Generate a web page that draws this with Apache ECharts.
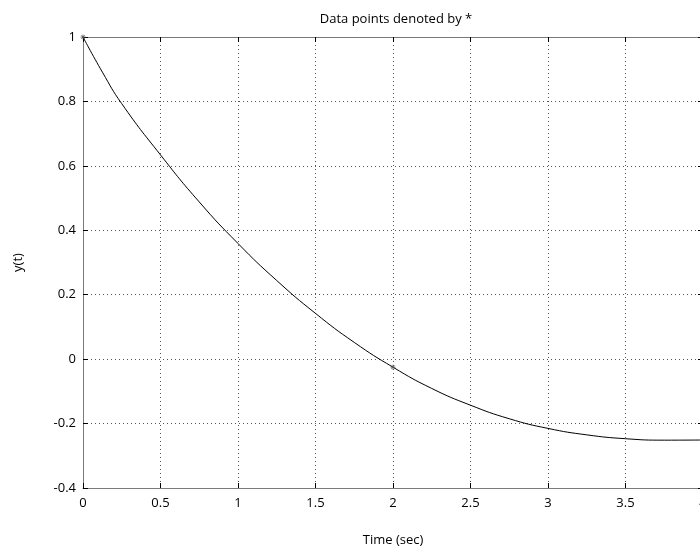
<!DOCTYPE html>
<html>
<head>
<meta charset="utf-8">
<script src="https://cdn.jsdelivr.net/npm/echarts@6/dist/echarts.min.js"></script>
<style>html,body{margin:0;padding:0;background:#fff;}#c{width:700px;height:550px;}</style>
</head>
<body>
<div id="c"></div>
<script>
var timeValues = [0, 0.125, 0.25, 0.5, 0.75, 1.0, 1.25, 1.5, 1.75, 2.0, 2.25, 2.5, 2.75, 3.0, 3.25, 3.5, 3.75, 4.0];
var yValues = [1.0, 0.891, 0.793, 0.634, 0.488, 0.359, 0.244, 0.142, 0.052, -0.025, -0.091, -0.143, -0.185, -0.215, -0.235, -0.247, -0.2515, -0.251];
var markedTimes = [0, 2.0];
var markedValues = [1.0, -0.025];
var titleText = 'Data points denoted by *';
var xName = 'Time (sec)';
var yName = 'y(t)';

var lineData = timeValues.map(function (t, i) { return [t, yValues[i]]; });
var markData = markedTimes.map(function (t, i) { return [t, markedValues[i]]; });
var font = 'Open Sans';
var chart = echarts.init(document.getElementById('c'));
var frame = { show: true, onZero: false, lineStyle: { color: '#7a7a7a', width: 1 } };
var tick = { show: true, inside: true, length: 5, lineStyle: { color: '#000' } };
var grid = { type: [1, 3], color: '#555', width: 1 };
chart.setOption({
  animation: false,
  backgroundColor: '#fff',
  title: { text: titleText, left: 391, top: 8, textAlign: 'center',
    textStyle: { fontFamily: font, fontSize: 13, fontWeight: 'normal', color: '#000' } },
  grid: { left: 83, top: 37, width: 620, height: 451, outerBoundsMode: 'none', containLabel: false },
  xAxis: [{
    type: 'value', min: 0, max: 4, interval: 0.5, position: 'bottom',
    name: xName, nameLocation: 'middle', nameGap: 46,
    nameTextStyle: { fontFamily: font, fontSize: 13, color: '#000' },
    axisLine: frame, axisTick: tick,
    axisLabel: { fontFamily: font, fontSize: 13, color: '#000', margin: 9 },
    splitLine: { show: true, lineStyle: grid }
  }, {
    type: 'value', min: 0, max: 4, interval: 0.5, position: 'top',
    axisLine: frame, axisTick: tick, axisLabel: { show: false }, splitLine: { show: false }
  }],
  yAxis: [{
    type: 'value', min: -0.4, max: 1, interval: 0.2, position: 'left',
    name: yName, nameLocation: 'middle', nameGap: 58, nameRotate: 90,
    nameTextStyle: { fontFamily: font, fontSize: 13, color: '#000' },
    axisLine: frame, axisTick: tick,
    axisLabel: { fontFamily: font, fontSize: 13, color: '#000', margin: 7,
      formatter: function (v) { return String(Math.round(v * 10) / 10); } },
    splitLine: { show: true, lineStyle: grid }
  }, {
    type: 'value', min: -0.4, max: 1, interval: 0.2, position: 'right',
    axisLine: frame, axisTick: tick, axisLabel: { show: false }, splitLine: { show: false }
  }],
  series: [{
    type: 'line', data: lineData, smooth: true, showSymbol: false,
    lineStyle: { color: '#000', width: 1 }, z: 3
  }, {
    type: 'scatter', data: markData, symbol: 'path://M0,-5L0,5M-5,0L5,0M-3.5,-3.5L3.5,3.5M-3.5,3.5L3.5,-3.5',
    symbolSize: 5, itemStyle: { color: 'none', borderColor: '#555', borderWidth: 1 }, z: 4
  }]
});
</script>
</body>
</html>
